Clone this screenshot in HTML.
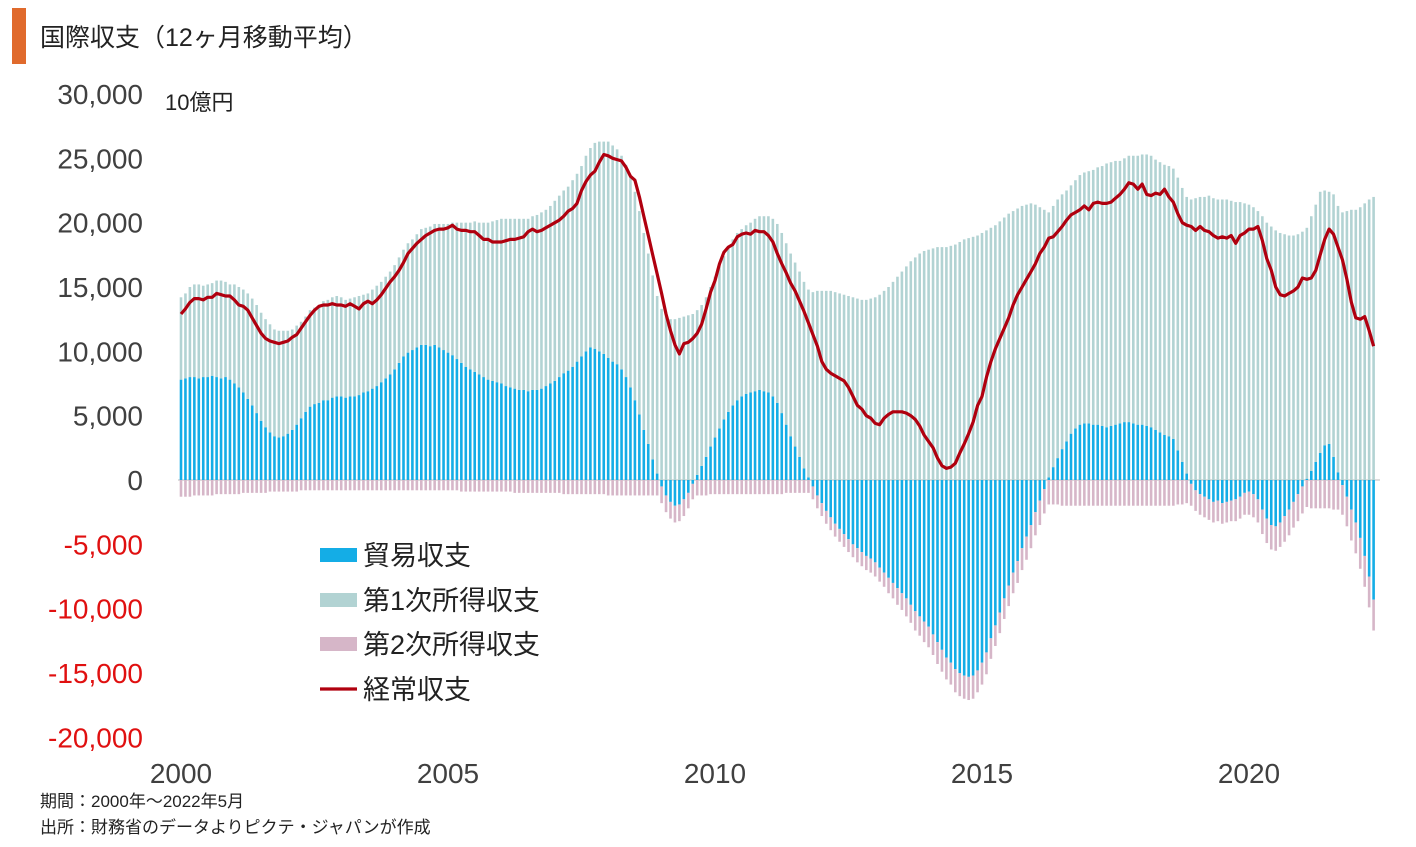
<!DOCTYPE html>
<html><head><meta charset="utf-8">
<style>
body{margin:0;background:#fff;width:1416px;height:842px;overflow:hidden;font-family:"Liberation Sans","Noto Sans CJK JP",sans-serif;}
svg text{font-family:"Liberation Sans","Noto Sans CJK JP",sans-serif;}
</style></head>
<body>
<svg id="chart" width="1416" height="842" viewBox="0 0 1416 842" xmlns="http://www.w3.org/2000/svg">
<rect x="12" y="8" width="14" height="56" fill="#e06a2c"/>
<text x="40" y="46" font-size="25" fill="#222">国際収支（12ヶ月移動平均）</text>
<text x="165" y="110" font-size="22" fill="#222">10億円</text>
<g id="yticks"></g>
<g id="xticks"></g>
<line x1="178" y1="480" x2="1380" y2="480" stroke="#bbb" stroke-width="1"/>
<g id="bars"></g>
<path id="caline" fill="none" stroke="#b0000f" stroke-width="3.2" stroke-linejoin="round"/>
<g>
<rect x="320" y="548" width="37" height="14" fill="#14ade6"/>
<text x="363" y="565" font-size="27" fill="#222">貿易収支</text>
<rect x="320" y="593" width="37" height="14" fill="#b2d3d3"/>
<text x="363" y="610" font-size="27" fill="#222">第1次所得収支</text>
<rect x="320" y="637" width="37" height="14" fill="#d6b6c8"/>
<text x="363" y="654" font-size="27" fill="#222">第2次所得収支</text>
<line x1="320" y1="689" x2="357" y2="689" stroke="#b0000f" stroke-width="3.2"/>
<text x="363" y="699" font-size="27" fill="#222">経常収支</text>
</g>
<text x="40" y="807" font-size="17" fill="#222">期間：2000年～2022年5月</text>
<text x="40" y="833" font-size="17" fill="#222">出所：財務省のデータよりピクテ・ジャパンが作成</text>
</svg>
<script>
const yTicks=[30000,25000,20000,15000,10000,5000,0,-5000,-10000,-15000,-20000];
const xYears=[2000,2005,2010,2015,2020];
const trade=[
7800,7900,8000,8000,7900,8000,8000,8100,8000,7900,8000,7800,
7500,7200,6800,6300,5800,5200,4600,4100,3700,3400,3300,3400,
3600,3900,4300,4800,5300,5700,5900,6000,6200,6200,6400,6500,
6500,6400,6500,6500,6600,6800,6900,7100,7300,7600,7900,8200,
8600,9100,9600,9900,10100,10300,10500,10500,10400,10500,10300,10100,
9900,9700,9400,9100,8800,8600,8400,8200,8000,7800,7700,7600,
7500,7300,7200,7100,7000,7000,6900,7000,7000,7100,7300,7500,
7700,8000,8300,8500,8800,9200,9600,10000,10300,10200,10000,9800,
9500,9200,9000,8600,8000,7200,6200,5100,3900,2800,1600,500,
-500,-1200,-1700,-2000,-1900,-1500,-1000,-300,400,1100,1800,2600,
3300,4000,4700,5300,5800,6200,6500,6700,6800,6900,7000,6900,
6800,6500,6000,5200,4300,3400,2600,1800,900,200,-500,-1200,
-1800,-2400,-2900,-3400,-3800,-4200,-4600,-5000,-5300,-5600,-5900,-6100,
-6400,-6800,-7200,-7600,-8000,-8400,-8800,-9200,-9700,-10200,-10600,-11000,
-11400,-12000,-12600,-13200,-13800,-14200,-14700,-15000,-15200,-15300,-15200,-14800,
-14200,-13400,-12300,-11300,-10300,-9200,-8200,-7200,-6300,-5300,-4400,-3500,
-2500,-1600,-700,200,1000,1700,2400,3000,3600,4000,4300,4400,
4400,4300,4300,4200,4100,4200,4300,4400,4500,4500,4400,4300,
4300,4200,4100,3900,3700,3500,3400,3200,2300,1400,500,-300,
-800,-1100,-1300,-1500,-1700,-1600,-1800,-1700,-1600,-1500,-1300,-1000,
-900,-1100,-1500,-2300,-3000,-3500,-3600,-3300,-2800,-2300,-1700,-1100,
-500,100,700,1400,2100,2700,2800,1800,600,-400,-1300,-2300,
-3300,-4500,-5900,-7500,-9300];
const primary=[
6400,6600,7000,7200,7300,7100,7200,7200,7500,7600,7400,7400,
7700,7800,8000,8200,8300,8400,8400,8400,8400,8300,8300,8200,
8000,7800,7700,7500,7400,7500,7500,7600,7700,7800,7800,7800,
7700,7600,7600,7700,7700,7600,7600,7700,7800,7800,7900,8000,
8100,8200,8300,8500,8600,8800,9000,9100,9300,9400,9600,9800,
10000,10300,10600,10900,11200,11400,11700,11800,12000,12200,12400,12600,
12800,13000,13100,13200,13300,13300,13400,13500,13600,13700,13700,13800,
14000,14100,14200,14300,14500,14600,14800,15200,15500,16000,16300,16500,
16800,16800,16700,16600,16500,16400,16200,15800,15300,14800,14300,13800,
13300,12800,12500,12500,12600,12700,12800,12900,12800,12500,12400,12400,
12500,12600,12700,12800,12900,13000,13000,13100,13200,13400,13500,13600,
13700,13800,13900,14000,14100,14200,14300,14400,14500,14600,14600,14700,
14700,14700,14700,14600,14500,14400,14300,14200,14100,14000,14000,14100,
14200,14400,14700,15000,15400,15800,16200,16600,17000,17300,17600,17800,
17900,18000,18100,18100,18100,18200,18300,18500,18700,18800,18900,19000,
19200,19400,19600,19800,20100,20400,20700,20900,21100,21300,21400,21500,
21400,21200,21000,20600,20300,20100,19800,19500,19300,19300,19400,19500,
19600,19800,20000,20200,20500,20500,20500,20400,20500,20700,20800,20900,
21000,21100,21100,21000,21000,21000,21000,21000,21200,21300,21500,21800,
21900,22000,22000,22100,21900,21800,21800,21800,21700,21600,21600,21500,
21400,21200,20900,20500,20000,19700,19400,19200,19100,19000,19000,19100,
19300,19500,19800,20000,20300,19800,19600,20400,20700,20800,20900,21000,
21000,21200,21500,21800,22000];
const secondary=[
-1300,-1300,-1300,-1200,-1200,-1200,-1200,-1200,-1100,-1100,-1100,-1100,
-1100,-1100,-1000,-1000,-1000,-1000,-1000,-1000,-900,-900,-900,-900,
-900,-900,-900,-800,-800,-800,-800,-800,-800,-800,-800,-800,
-800,-800,-800,-800,-800,-800,-800,-800,-800,-800,-800,-800,
-800,-800,-800,-800,-800,-800,-800,-800,-800,-800,-800,-800,
-800,-800,-800,-900,-900,-900,-900,-900,-900,-900,-900,-900,
-900,-900,-900,-1000,-1000,-1000,-1000,-1000,-1000,-1000,-1000,-1000,
-1000,-1000,-1100,-1100,-1100,-1100,-1100,-1100,-1100,-1100,-1100,-1100,
-1200,-1200,-1200,-1200,-1200,-1200,-1200,-1200,-1200,-1200,-1200,-1200,
-1300,-1300,-1300,-1300,-1300,-1300,-1200,-1200,-1200,-1200,-1200,-1100,
-1100,-1100,-1100,-1100,-1100,-1100,-1100,-1100,-1100,-1100,-1100,-1100,
-1100,-1100,-1100,-1100,-1000,-1000,-1000,-1000,-1000,-1000,-1000,-1000,
-1000,-1000,-1000,-1000,-1000,-1000,-1000,-1000,-1100,-1100,-1100,-1100,
-1100,-1100,-1100,-1200,-1200,-1300,-1300,-1400,-1400,-1500,-1500,-1600,
-1600,-1600,-1700,-1700,-1700,-1700,-1800,-1800,-1800,-1800,-1800,-1700,
-1700,-1700,-1600,-1600,-1600,-1600,-1600,-1600,-1700,-1700,-1800,-1800,
-1800,-1900,-1900,-1900,-1900,-1900,-2000,-2000,-2000,-2000,-2000,-2000,
-2000,-2000,-2000,-2000,-2000,-2000,-2000,-2000,-2000,-2000,-2000,-2000,
-2000,-2000,-2000,-2000,-2000,-2000,-2000,-2000,-1900,-1900,-1800,-1700,
-1600,-1600,-1600,-1600,-1600,-1600,-1600,-1600,-1600,-1700,-1700,-1700,
-1800,-1800,-1800,-1900,-1900,-1900,-1900,-1900,-2000,-2000,-2000,-2100,
-2100,-2100,-2200,-2200,-2200,-2200,-2200,-2300,-2300,-2300,-2300,-2400,
-2400,-2400,-2400,-2400,-2400];
const current=[
12900,13300,13800,14100,14100,14000,14200,14200,14500,14400,14300,14300,
14000,13600,13500,13200,12600,12000,11400,11000,10800,10700,10600,10700,
10800,11100,11300,11800,12300,12800,13200,13500,13600,13600,13700,13600,
13600,13500,13700,13500,13300,13700,13900,13700,14000,14400,14900,15400,
15800,16300,16900,17600,18000,18400,18700,19000,19200,19400,19500,19500,
19600,19800,19500,19400,19400,19300,19300,19000,18700,18700,18500,18500,
18500,18600,18700,18700,18800,18900,19300,19500,19300,19400,19600,19800,
20000,20200,20500,20900,21100,21500,22500,23200,23700,24000,24700,25300,
25200,25000,24900,24800,24300,23600,23300,22000,20500,19000,17500,16000,
14500,12900,11600,10500,9800,10600,10700,11000,11400,12100,13300,14600,
15500,16800,17700,18100,18300,18900,19100,19200,19100,19400,19300,19300,
19000,18500,17600,16800,16100,15300,14700,13900,13100,12200,11300,10400,
9200,8600,8300,8100,7900,7700,7200,6500,5800,5500,5000,4800,
4400,4300,4800,5100,5300,5300,5300,5200,5000,4700,4200,3500,
3000,2500,1700,1100,900,1000,1300,2100,2800,3600,4500,5800,
6500,8000,9200,10200,11000,11800,12600,13600,14400,15000,15600,16200,
16800,17600,18100,18800,18900,19300,19700,20200,20600,20800,21000,21300,
21000,21500,21600,21500,21500,21600,21900,22200,22600,23100,23000,22600,
23000,22200,22100,22300,22200,22600,22000,21600,20700,20000,19800,19700,
19400,19700,19400,19300,19000,18800,18900,18800,19000,18400,19000,19200,
19500,19500,19700,18600,17200,16300,15000,14400,14300,14500,14700,15000,
15700,15600,15700,16300,17500,18700,19500,19100,18100,17100,15600,13800,
12600,12500,12700,11600,10400];

const NS='http://www.w3.org/2000/svg';
const y=v=>480-v*(386/30000);
const x=i=>181+i*(53.4/12);
const xYear=yr=>181+(yr-2000)*53.4;

const yg=document.getElementById('yticks');
yTicks.forEach(t=>{
  const el=document.createElementNS(NS,'text');
  
  
  el.setAttribute('x',143);el.setAttribute('y',y(t)+10);
  el.setAttribute('text-anchor','end');el.setAttribute('font-size','28');
  el.setAttribute('fill',t<0?'#e01010':'#404040');
  el.textContent=t.toLocaleString('en-US');
  yg.appendChild(el);
});
const xg=document.getElementById('xticks');
xYears.forEach(yr=>{
  const el=document.createElementNS(NS,'text');
  
  
  el.setAttribute('x',xYear(yr));el.setAttribute('y',783);
  el.setAttribute('text-anchor','middle');el.setAttribute('font-size','28');
  el.setAttribute('fill','#404040');
  el.textContent=yr;
  xg.appendChild(el);
});
const bg=document.getElementById('bars');
function rect(x0,v0,v1,color,name){
  const a=Math.min(y(v0),y(v1)),b=Math.max(y(v0),y(v1));
  const r=document.createElementNS(NS,'rect');
  
  
  r.setAttribute('x',x0-1.3);r.setAttribute('width',2.6);
  r.setAttribute('y',a);r.setAttribute('height',Math.max(0,b-a));
  r.setAttribute('fill',color);
  bg.appendChild(r);
}
for(let i=0;i<trade.length;i++){
  const t=trade[i],p=primary[i],s=secondary[i],cx=x(i);
  if(t>=0){
    rect(cx,0,t,'#14ade6','bar-trade');
    rect(cx,t,t+p,'#b2d3d3','bar-primary');
    rect(cx,0,s,'#d6b6c8','bar-secondary');
  }else{
    rect(cx,0,t,'#14ade6','bar-trade');
    rect(cx,0,p,'#b2d3d3','bar-primary');
    rect(cx,t,t+s,'#d6b6c8','bar-secondary');
  }
}
let d='';
current.forEach((v,i)=>{d+=(i?'L':'M')+x(i).toFixed(1)+','+y(v).toFixed(1);});
document.getElementById('caline').setAttribute('d',d);
</script>
</body></html>
